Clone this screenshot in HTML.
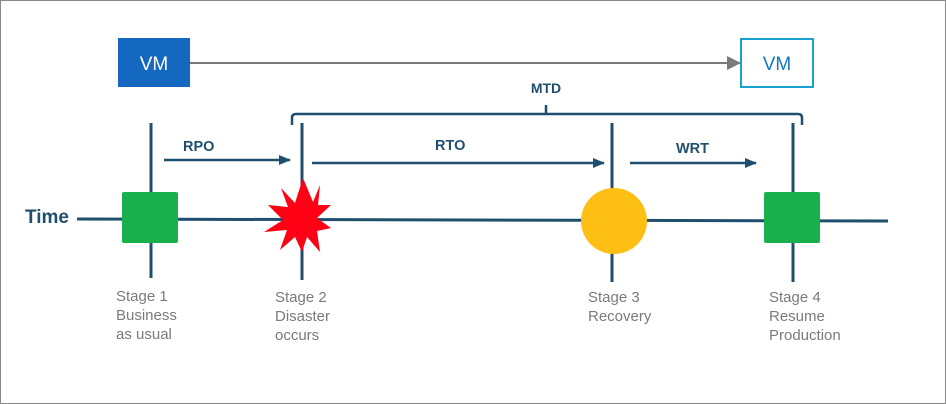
<!DOCTYPE html>
<html><head><meta charset="utf-8"><style>
html,body{margin:0;padding:0;background:#fff}
svg{display:block}
text{font-family:"Liberation Sans",Arial,sans-serif}
</style></head><body>
<svg width="946" height="404" viewBox="0 0 946 404" xmlns="http://www.w3.org/2000/svg">
<rect x="0.5" y="0.5" width="945" height="403" fill="#fff" stroke="#888" stroke-width="1"/>
<defs>
<marker id="ga" markerWidth="14" markerHeight="14" refX="13" refY="7" orient="auto" markerUnits="userSpaceOnUse">
<path d="M0,0 L14,7 L0,14 z" fill="#7a7a7a"/></marker>
<marker id="ba" markerWidth="12" markerHeight="12" refX="11" refY="6" orient="auto" markerUnits="userSpaceOnUse">
<path d="M0,1 L12,6 L0,11 z" fill="#1f4e6e"/></marker>
</defs>
<rect x="118" y="38" width="72" height="49" fill="#1468c0"/>
<text x="154" y="70" font-size="19" fill="#fff" text-anchor="middle">VM</text>
<line x1="190" y1="63" x2="740" y2="63" stroke="#7a7a7a" stroke-width="2" marker-end="url(#ga)"/>
<rect x="741" y="39" width="72" height="48" fill="#fff" stroke="#1aa0d0" stroke-width="2"/>
<text x="777" y="70" font-size="19" fill="#1477c0" text-anchor="middle">VM</text>
<text x="546" y="93" font-size="14" font-weight="bold" fill="#1f4e6e" text-anchor="middle">MTD</text>
<path d="M292,125 L292,118 Q292,114 296,114 L798,114 Q802,114 802,118 L802,125" fill="none" stroke="#1f4e6e" stroke-width="2.5"/>
<line x1="546" y1="105" x2="546" y2="114" stroke="#1f4e6e" stroke-width="2.5"/>
<text x="25" y="223" font-size="19" font-weight="bold" fill="#1f4e6e">Time</text>
<line x1="77" y1="219" x2="888" y2="221" stroke="#1f4e6e" stroke-width="3"/>
<line x1="151" y1="123" x2="151" y2="278" stroke="#1f4e6e" stroke-width="3"/>
<line x1="302" y1="123" x2="302" y2="280" stroke="#1f4e6e" stroke-width="3"/>
<line x1="612" y1="123" x2="612" y2="282" stroke="#1f4e6e" stroke-width="3"/>
<line x1="793" y1="123" x2="793" y2="282" stroke="#1f4e6e" stroke-width="3"/>
<text x="183" y="151" font-size="14.5" font-weight="bold" fill="#1f4e6e">RPO</text>
<line x1="164" y1="160" x2="290" y2="160" stroke="#1f4e6e" stroke-width="2.5" marker-end="url(#ba)"/>
<text x="435" y="150" font-size="14.5" font-weight="bold" fill="#1f4e6e">RTO</text>
<line x1="312" y1="163" x2="604" y2="163" stroke="#1f4e6e" stroke-width="2.5" marker-end="url(#ba)"/>
<text x="676" y="153" font-size="14.5" font-weight="bold" fill="#1f4e6e">WRT</text>
<line x1="630" y1="163" x2="756" y2="163" stroke="#1f4e6e" stroke-width="2.5" marker-end="url(#ba)"/>
<rect x="122" y="192" width="56" height="51" rx="2" fill="#17b04d"/>
<rect x="764" y="192" width="56" height="51" rx="2" fill="#17b04d"/>
<circle cx="614" cy="221" r="33" fill="#fdbf14"/>
<polygon fill="#ff0015" points="303,178 313,202 320,185 318,205 331,205 317,218 331,228 317,231 320,252 307,237 302,252 295,237 280,250 287,230 264,232 283,220 268,205 288,207 281,188 295,203"/>
<g font-size="15" fill="#7a7a7a">
<text x="116" y="301">Stage 1</text><text x="116" y="320">Business</text><text x="116" y="339">as usual</text>
<text x="275" y="302">Stage 2</text><text x="275" y="321">Disaster</text><text x="275" y="340">occurs</text>
<text x="588" y="302">Stage 3</text><text x="588" y="321">Recovery</text>
<text x="769" y="302">Stage 4</text><text x="769" y="321">Resume</text><text x="769" y="340">Production</text>
</g>
</svg>
</body></html>
